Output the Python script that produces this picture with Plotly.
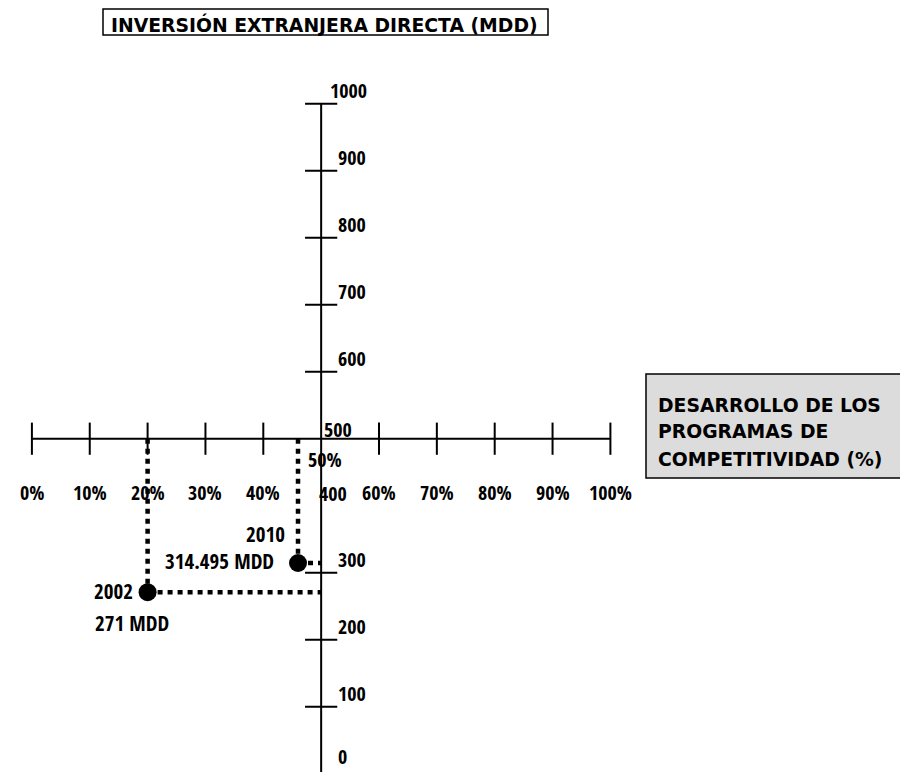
import plotly.graph_objects as go

# ---------------- data ----------------
YEARS = ["2002", "2010"]
PROGRAM_PCT = [20, 46]              # desarrollo de los programas de competitividad (%)
IED_MDD = [271, 314.495]            # inversión extranjera directa (MDD)
IED_LABELS = ["271 MDD", "314.495 MDD"]

X_TICKS = [0, 10, 20, 30, 40, 50, 60, 70, 80, 90, 100]
X_TICK_LABELS = ["0%", "10%", "20%", "30%", "40%", "50%", "60%", "70%", "80%", "90%", "100%"]
X_TICK_MARKS = [0, 10, 20, 30, 40, 60, 70, 80, 90, 100]

Y_TICKS = [0, 100, 200, 300, 400, 500, 600, 700, 800, 900, 1000]
Y_TICK_LABELS = ["0", "100", "200", "300", "400", "500", "600", "700", "800", "900", "1000"]
Y_TICK_MARKS = [100, 200, 300, 600, 700, 800, 900, 1000]

X_CROSS = 50      # vertical axis crosses at 50 %
Y_CROSS = 500     # horizontal axis crosses at 500 MDD

TITLE_Y = "INVERSIÓN EXTRANJERA DIRECTA (MDD)"
TITLE_X_LINES = ["DESARROLLO DE LOS", "PROGRAMAS DE", "COMPETITIVIDAD (%)"]

# ---------------- layout geometry (page pixels) ----------------
W, H = 908, 772
PAGE_OFF = 8                         # default body margin of the html page
X_PX0, X_PX_PER = 31.9 - PAGE_OFF, 5.785   # pixel of 0 %, pixels per %
Y_PX0, Y_PX_PER = 773.7 - PAGE_OFF, 0.670  # pixel of 0 MDD, pixels per MDD
x_range = [(0 - X_PX0) / X_PX_PER, (W - X_PX0) / X_PX_PER]
y_range = [(Y_PX0 - H) / Y_PX_PER, (Y_PX0 - 0) / Y_PX_PER]

NUM_FAMILY = "Open Sans Condensed, Roboto Condensed, sans-serif"
TICK_FONT = dict(family=NUM_FAMILY, size=20, color="black", weight="bold")
LBL_FONT = dict(family=NUM_FAMILY, size=21, color="black", weight="bold")
BOX_FONT = dict(family="DejaVu Sans, Verdana, sans-serif", size=18.8, color="black")

fig = go.Figure()

# axis lines
fig.add_trace(go.Scatter(x=[X_CROSS, X_CROSS], y=[Y_TICKS[0], Y_TICKS[-1]], mode="lines",
                         line=dict(color="black", width=2), hoverinfo="skip", showlegend=False,
                         cliponaxis=False))
fig.add_trace(go.Scatter(x=[X_TICKS[0], X_TICKS[-1]], y=[Y_CROSS, Y_CROSS], mode="lines",
                         line=dict(color="black", width=2), hoverinfo="skip", showlegend=False))

# tick marks
fig.add_trace(go.Scatter(x=X_TICK_MARKS, y=[Y_CROSS] * len(X_TICK_MARKS), mode="markers",
                         marker=dict(symbol="line-ns", size=23, line=dict(color="black", width=2)),
                         hoverinfo="skip", showlegend=False, cliponaxis=False))
fig.add_trace(go.Scatter(x=[X_CROSS] * len(Y_TICK_MARKS), y=Y_TICK_MARKS, mode="markers",
                         marker=dict(symbol="line-ew", size=23, line=dict(color="black", width=2)),
                         hoverinfo="skip", showlegend=False, cliponaxis=False))

# dotted guide lines
for p, v in zip(PROGRAM_PCT, IED_MDD):
    fig.add_trace(go.Scatter(x=[p, p, None, p, X_CROSS], y=[Y_CROSS, v, None, v, v], mode="lines",
                             line=dict(color="black", width=4.5, dash="5px,5px"),
                             hoverinfo="skip", showlegend=False))

# points
fig.add_trace(go.Scatter(x=PROGRAM_PCT, y=IED_MDD, mode="markers",
                         marker=dict(symbol="circle", size=18, color="black"),
                         showlegend=False))

ann = []
# x tick labels
for p, t in zip(X_TICKS, X_TICK_LABELS):
    if p == X_CROSS:
        ann.append(dict(x=p, y=Y_CROSS, text=t, showarrow=False, xanchor="center", yanchor="middle",
                        xshift=4, yshift=-21, font=TICK_FONT))
    else:
        ann.append(dict(x=p, y=Y_CROSS, text=t, showarrow=False, xanchor="center", yanchor="middle",
                        yshift=-54, font=TICK_FONT))
# y tick labels
special = {500: (1, 9), 400: (-4, 12), 1000: (7, 13), 0: (15, 17)}
for v, t in zip(Y_TICKS, Y_TICK_LABELS):
    xs, ys = special.get(v, (15, 13))
    ann.append(dict(x=X_CROSS, y=v, text=t, showarrow=False, xanchor="left", yanchor="middle",
                    xshift=xs, yshift=ys, font=TICK_FONT))

# point labels
year_off = [(-13, 1), (-11, 29)]
val_off = [dict(xanchor="left", xshift=-55, yshift=-31), dict(xanchor="right", xshift=-22, yshift=2)]
for i, (p, v) in enumerate(zip(PROGRAM_PCT, IED_MDD)):
    ann.append(dict(x=p, y=v, text=YEARS[i], showarrow=False, xanchor="right", yanchor="middle",
                    xshift=year_off[i][0], yshift=year_off[i][1], font=LBL_FONT))
    ann.append(dict(x=p, y=v, text=IED_LABELS[i], showarrow=False, yanchor="middle",
                    font=LBL_FONT, **val_off[i]))

# boxed titles (page pixel positions -> paper fractions)
def px(x):
    return (x - PAGE_OFF) / W

def py(y):
    return 1 - (y - PAGE_OFF) / H

shapes = [
    dict(type="rect", xref="paper", yref="paper", x0=px(103), x1=px(548), y0=py(35), y1=py(9),
         line=dict(color="black", width=1.5), fillcolor="white", layer="below"),
    dict(type="rect", xref="paper", yref="paper", x0=px(646), x1=px(906), y0=py(478), y1=py(374),
         line=dict(color="black", width=1.5), fillcolor="#dcdcdc", layer="below"),
]
ann.append(dict(xref="paper", yref="paper", x=px(109), y=py(25), text="<b>" + TITLE_Y + "</b>",
                showarrow=False, xanchor="left", yanchor="middle", font=BOX_FONT))
for i, line in enumerate(TITLE_X_LINES):
    ann.append(dict(xref="paper", yref="paper", x=px(656), y=py(405 + 27 * i), text="<b>" + line + "</b>",
                    showarrow=False, xanchor="left", yanchor="middle", font=BOX_FONT))

fig.update_layout(
    width=W, height=H, margin=dict(l=0, r=0, t=0, b=0),
    paper_bgcolor="white", plot_bgcolor="white",
    xaxis=dict(range=x_range, visible=False, fixedrange=True),
    yaxis=dict(range=y_range, visible=False, fixedrange=True),
    annotations=ann, shapes=shapes, showlegend=False,
)

fig.write_html("out.html")
